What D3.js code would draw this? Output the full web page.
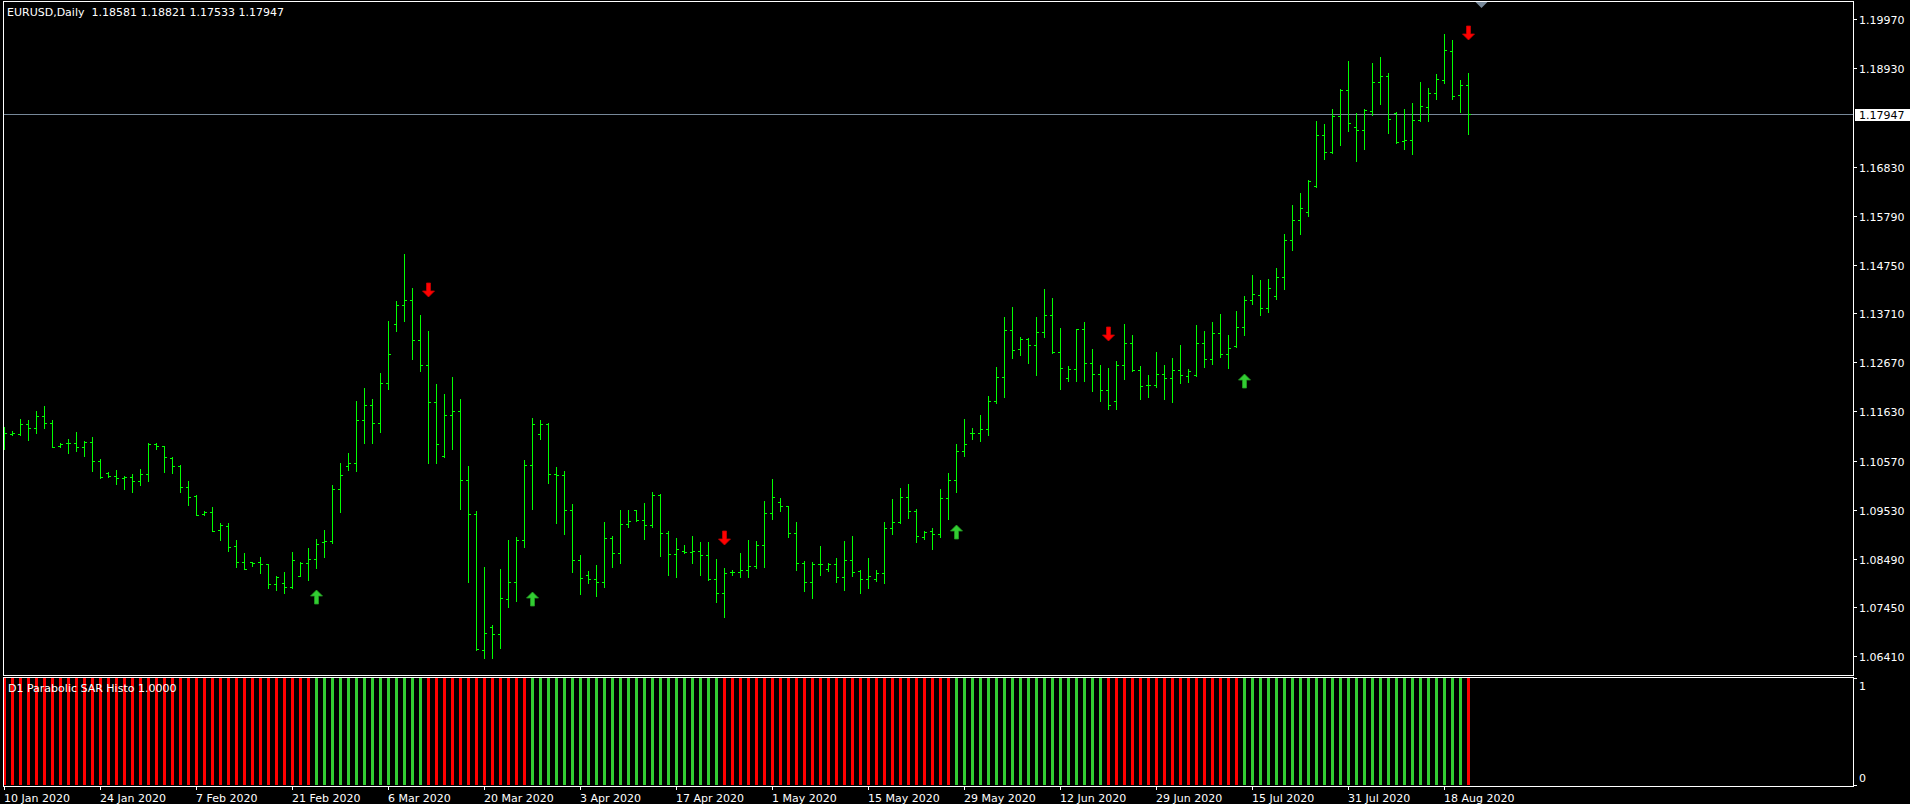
<!DOCTYPE html>
<html>
<head>
<meta charset="utf-8">
<script src="https://cdn.jsdelivr.net/npm/d3@7"></script>
<style>
  html, body { margin: 0; padding: 0; background: #000; overflow: hidden; }
  svg { display: block; }
  text { font-family: "DejaVu Sans", sans-serif; font-size: 11px; fill: #fff; }
</style>
</head>
<body>
<svg id="chart" width="1910" height="804"></svg>
<script>
const symbol = 'EURUSD,Daily';
const indicatorName = 'D1 Parabolic SAR Histo 1.0000';

// daily bars, one line = 12 bars (two weeks incl. sunday bars)
const opens = [
  1.11121, 1.11135, 1.11150, 1.11348, 1.11263, 1.11519, 1.11370, 1.10894, 1.10958, 1.10958, 1.10873, 1.10965,
  1.10561, 1.10305, 1.10248, 1.10206, 1.10227, 1.10135, 1.10284, 1.10937, 1.10880, 1.10632, 1.10468, 1.10007,
  1.09830, 1.09440, 1.09489, 1.09092, 1.09184, 1.08751, 1.08411, 1.08411, 1.08411, 1.08368, 1.07949, 1.07978,
  1.07878, 1.08127, 1.08396, 1.08482, 1.08851, 1.08858, 1.09965, 1.10461, 1.10518, 1.11441, 1.11753, 1.11370,
  1.12221, 1.13477, 1.13881, 1.13988, 1.13143, 1.12604, 1.11816, 1.10674, 1.11547, 1.11625, 1.10163, 1.09439,
  1.06544, 1.07027, 1.06878, 1.07623, 1.07985, 1.08879, 1.10475, 1.11142, 1.11355, 1.10284, 1.10270, 1.09518,
  1.08460, 1.08141, 1.08049, 1.07992, 1.08921, 1.08602, 1.09220, 1.09518, 1.09312, 1.09198, 1.09844, 1.09028,
  1.08588, 1.08652, 1.08631, 1.08645, 1.08567, 1.08049, 1.07765, 1.08212, 1.08212, 1.08240, 1.08325, 1.08772,
  1.09454, 1.09688, 1.09603, 1.09028, 1.08389, 1.07985, 1.08368, 1.08262, 1.08368, 1.08098, 1.08453, 1.08226,
  1.08063, 1.08049, 1.08176, 1.09134, 1.09262, 1.09794, 1.09503, 1.08957, 1.09071, 1.09007, 1.09773, 1.10156,
  1.10773, 1.11157, 1.11157, 1.11242, 1.11838, 1.12349, 1.13349, 1.12945, 1.13158, 1.13030, 1.13307, 1.13676,
  1.12881, 1.12327, 1.12519, 1.13371, 1.12647, 1.12413, 1.12079, 1.11845, 1.12604, 1.13080, 1.12498, 1.12178,
  1.12178, 1.12413, 1.12327, 1.12498, 1.12377, 1.12391, 1.13080, 1.12732, 1.13285, 1.12845, 1.13016, 1.13413,
  1.13988, 1.14094, 1.13818, 1.14073, 1.14477, 1.15265, 1.15691, 1.15861, 1.16422, 1.17500, 1.17138, 1.17905,
  1.18458, 1.17671, 1.17614, 1.18018, 1.18636, 1.18756, 1.17983, 1.17380, 1.17401, 1.17827, 1.18096, 1.18408,
  1.18678, 1.19303, 1.18352, 1.18581
];
const highs = [
  1.11284, 1.11199, 1.11462, 1.11441, 1.11632, 1.11731, 1.11441, 1.10944, 1.11036, 1.11185, 1.10993, 1.11079,
  1.10603, 1.10341, 1.10369, 1.10256, 1.10291, 1.10390, 1.10951, 1.10944, 1.10894, 1.10660, 1.10476, 1.10135,
  1.09837, 1.09496, 1.09581, 1.09248, 1.09241, 1.08886, 1.08602, 1.08418, 1.08517, 1.08375, 1.08113, 1.08198,
  1.08624, 1.08411, 1.08709, 1.08907, 1.09099, 1.10057, 1.10518, 1.10731, 1.11845, 1.12115, 1.11880, 1.12434,
  1.13548, 1.13974, 1.14974, 1.14243, 1.13676, 1.13335, 1.12207, 1.11994, 1.12356, 1.11887, 1.10461, 1.09503,
  1.08311, 1.07077, 1.08269, 1.08886, 1.08950, 1.10589, 1.11483, 1.11440, 1.11377, 1.10433, 1.10362, 1.09652,
  1.08567, 1.08226, 1.08354, 1.09269, 1.08978, 1.09525, 1.09525, 1.09525, 1.09674, 1.09908, 1.09865, 1.09078,
  1.08929, 1.08787, 1.08978, 1.08836, 1.08843, 1.08481, 1.08290, 1.08247, 1.08609, 1.08886, 1.08865, 1.09716,
  1.10185, 1.09780, 1.09610, 1.09269, 1.08439, 1.08418, 1.08758, 1.08396, 1.08503, 1.08865, 1.08971, 1.08240,
  1.08503, 1.08247, 1.09269, 1.09759, 1.09993, 1.10078, 1.09546, 1.09071, 1.09141, 1.09972, 1.10312, 1.10930,
  1.11462, 1.11263, 1.11540, 1.11951, 1.12569, 1.13633, 1.13846, 1.13207, 1.13179, 1.13633, 1.14229, 1.14037,
  1.13399, 1.12590, 1.13378, 1.13527, 1.12952, 1.12611, 1.12547, 1.12696, 1.13484, 1.13250, 1.12590, 1.12398,
  1.12888, 1.12611, 1.12753, 1.13037, 1.12519, 1.13463, 1.13328, 1.13520, 1.13697, 1.13250, 1.13761, 1.14080,
  1.14520, 1.14421, 1.14442, 1.14676, 1.15400, 1.16017, 1.16273, 1.16556, 1.17805, 1.17734, 1.18061, 1.18486,
  1.19083, 1.17976, 1.18061, 1.19047, 1.19168, 1.18827, 1.17997, 1.18061, 1.18181, 1.18643, 1.18508, 1.18806,
  1.19657, 1.19523, 1.18678, 1.18821
];
const lows = [
  1.10830, 1.11114, 1.11114, 1.11022, 1.11171, 1.11277, 1.10859, 1.10873, 1.10745, 1.10788, 1.10681, 1.10362,
  1.10199, 1.10234, 1.10085, 1.09979, 1.09915, 1.10064, 1.10149, 1.10816, 1.10341, 1.10319, 1.09915, 1.09631,
  1.09411, 1.09411, 1.09071, 1.08893, 1.08645, 1.08318, 1.08262, 1.08333, 1.08177, 1.07857, 1.07822, 1.07765,
  1.07871, 1.08120, 1.08035, 1.08297, 1.08531, 1.08829, 1.09489, 1.10376, 1.10362, 1.10944, 1.10944, 1.11192,
  1.12107, 1.13342, 1.13555, 1.12746, 1.12491, 1.10532, 1.10532, 1.10660, 1.10830, 1.09539, 1.07999, 1.06544,
  1.06367, 1.06367, 1.06580, 1.07453, 1.07595, 1.08730, 1.09539, 1.11043, 1.10092, 1.09255, 1.09021, 1.08198,
  1.07729, 1.07978, 1.07687, 1.07893, 1.08304, 1.08404, 1.09170, 1.09298, 1.08914, 1.09156, 1.08553, 1.08148,
  1.08105, 1.08616, 1.08404, 1.08148, 1.08034, 1.07559, 1.07254, 1.08141, 1.08105, 1.08091, 1.08297, 1.08318,
  1.09340, 1.09510, 1.08957, 1.08255, 1.07807, 1.07658, 1.08148, 1.08233, 1.07999, 1.07829, 1.08113, 1.07751,
  1.07871, 1.08020, 1.07978, 1.09021, 1.09255, 1.09361, 1.08851, 1.08900, 1.08702, 1.08957, 1.09326, 1.09915,
  1.10681, 1.11029, 1.11001, 1.11128, 1.11795, 1.11937, 1.12767, 1.12831, 1.12661, 1.12405, 1.13214, 1.12860,
  1.12107, 1.12264, 1.12264, 1.12264, 1.12065, 1.11852, 1.11668, 1.11682, 1.12320, 1.12491, 1.11895, 1.11937,
  1.12143, 1.11895, 1.11831, 1.12221, 1.12256, 1.12377, 1.12576, 1.12625, 1.12789, 1.12540, 1.13001, 1.13243,
  1.13910, 1.13683, 1.13747, 1.14009, 1.14222, 1.15052, 1.15393, 1.15790, 1.16400, 1.16989, 1.17117, 1.17302,
  1.17600, 1.16947, 1.17202, 1.17926, 1.18160, 1.17543, 1.17344, 1.17202, 1.17096, 1.17812, 1.17798, 1.18281,
  1.18621, 1.18281, 1.18004, 1.17533
];
const closes = [
  1.11157, 1.11157, 1.11348, 1.11263, 1.11519, 1.11377, 1.10873, 1.10930, 1.10958, 1.10866, 1.10965, 1.10561,
  1.10234, 1.10248, 1.10213, 1.10227, 1.10135, 1.10284, 1.10930, 1.10887, 1.10646, 1.10468, 1.10014, 1.09794,
  1.09418, 1.09489, 1.09085, 1.09198, 1.08744, 1.08411, 1.08269, 1.08404, 1.08368, 1.07949, 1.08098, 1.07878,
  1.08460, 1.08396, 1.08475, 1.08794, 1.08858, 1.09965, 1.10263, 1.10518, 1.11441, 1.11753, 1.11370, 1.12221,
  1.12838, 1.13881, 1.13988, 1.13143, 1.12604, 1.11816, 1.10930, 1.11547, 1.11625, 1.10163, 1.09439, 1.06559,
  1.06899, 1.06878, 1.07644, 1.07985, 1.08879, 1.10475, 1.11355, 1.11355, 1.10284, 1.10270, 1.09518, 1.08460,
  1.08077, 1.08049, 1.07992, 1.08921, 1.08602, 1.09220, 1.09298, 1.09312, 1.09198, 1.09844, 1.09028, 1.08588,
  1.08687, 1.08631, 1.08645, 1.08567, 1.08049, 1.07765, 1.08183, 1.08205, 1.08240, 1.08333, 1.08772, 1.09454,
  1.09794, 1.09603, 1.09028, 1.08389, 1.07985, 1.08368, 1.08368, 1.08368, 1.08098, 1.08453, 1.08198, 1.08049,
  1.08113, 1.08176, 1.09134, 1.09262, 1.09794, 1.09503, 1.08978, 1.09056, 1.09007, 1.09773, 1.10156, 1.10773,
  1.10922, 1.11157, 1.11242, 1.11838, 1.12349, 1.13349, 1.12923, 1.13158, 1.13030, 1.13307, 1.13676, 1.12881,
  1.12540, 1.12519, 1.13371, 1.12647, 1.12413, 1.12079, 1.11753, 1.12604, 1.13080, 1.12498, 1.12164, 1.12178,
  1.12413, 1.12327, 1.12498, 1.12391, 1.12491, 1.13080, 1.12732, 1.13285, 1.12845, 1.12980, 1.13413, 1.13988,
  1.14116, 1.13818, 1.14258, 1.14477, 1.15265, 1.15691, 1.15946, 1.16528, 1.17507, 1.17138, 1.17905, 1.18458,
  1.17756, 1.17614, 1.18040, 1.18636, 1.18756, 1.17841, 1.17351, 1.17401, 1.17827, 1.18125, 1.18401, 1.18692,
  1.19310, 1.18345, 1.18572, 1.17947
];

// parabolic SAR flips (arrow price = SAR value at the flip bar)
const signalBars = [39, 53, 66, 90, 119, 138, 155, 183];
const signalDirs = ['up', 'down', 'up', 'down', 'up', 'down', 'up', 'down'];
const signalPrices = [1.07822, 1.14065, 1.07786, 1.08780, 1.09199, 1.13129, 1.12413, 1.19530];

// histogram trend runs: first bar of each run and its direction
const trendStarts = [0, 39, 53, 66, 90, 119, 138, 155, 183];
const trendDirs = ['down', 'up', 'down', 'up', 'down', 'up', 'down', 'up', 'down'];

const priceTicks = [1.19970, 1.18930, 1.16830, 1.15790, 1.14750, 1.13710, 1.12670,
  1.11630, 1.10570, 1.09530, 1.08490, 1.07450, 1.06410];
const dateTickBars = [0, 12, 24, 36, 48, 60, 72, 84, 96, 108, 120, 132, 144, 156, 168, 180];
const dateTickLabels = ['10 Jan 2020', '24 Jan 2020', '7 Feb 2020', '21 Feb 2020', '6 Mar 2020',
  '20 Mar 2020', '3 Apr 2020', '17 Apr 2020', '1 May 2020', '15 May 2020', '29 May 2020',
  '12 Jun 2020', '29 Jun 2020', '15 Jul 2020', '31 Jul 2020', '18 Aug 2020'];

// visible price range of the main window
const priceRange = [1.06012, 1.20360];

const mainBox = { left: 3, top: 1, right: 1853, bottom: 675 };
const subBox = { left: 3, top: 677, right: 1853, bottom: 786 };
const barStep = 8;
const firstBarX = 4;

const colors = {
  bar: '#00ff00',
  up: '#32cd32',
  down: '#ff0000',
  grid: '#778899',
  frame: '#ffffff'
};

const svg = d3.select('#chart');
const n = opens.length;

const x = d3.scaleLinear()
  .domain([0, n - 1])
  .range([firstBarX, firstBarX + barStep * (n - 1)]);

const y = d3.scaleLinear()
  .domain(priceRange)
  .range([mainBox.bottom, mainBox.top]);

const h = d3.scaleLinear()
  .domain([0, 1])
  .range([subBox.bottom - 1, subBox.top + 1]);

const bars = d3.range(n).map((i) => ({
  i: i, o: opens[i], h: highs[i], l: lows[i], c: closes[i]
}));

function trendAt(i) {
  let dir = trendDirs[0];
  trendStarts.forEach((s, k) => { if (i >= s) dir = trendDirs[k]; });
  return dir;
}

svg.append('rect').attr('width', 1910).attr('height', 804).attr('fill', '#000');

svg.append('clipPath').attr('id', 'mainClip')
  .append('rect')
  .attr('x', mainBox.left + 1).attr('y', mainBox.top + 1)
  .attr('width', mainBox.right - mainBox.left - 1)
  .attr('height', mainBox.bottom - mainBox.top - 1);

svg.append('clipPath').attr('id', 'subClip')
  .append('rect')
  .attr('x', subBox.left + 1).attr('y', subBox.top + 1)
  .attr('width', subBox.right - subBox.left - 1)
  .attr('height', subBox.bottom - subBox.top - 1);

// ---- main window ----
const plot = svg.append('g').attr('clip-path', 'url(#mainClip)')
  .attr('shape-rendering', 'crispEdges');

// current price line
const lastRow = Math.round(y(closes[n - 1]));
plot.append('line')
  .attr('x1', mainBox.left).attr('x2', mainBox.right)
  .attr('y1', lastRow + 0.5).attr('y2', lastRow + 0.5)
  .attr('stroke', colors.grid);

const ohlc = plot.append('g').attr('stroke', colors.bar).attr('stroke-width', 1);

ohlc.selectAll('line.hl')
  .data(bars)
  .join('line')
  .attr('class', 'hl')
  .attr('x1', (d) => x(d.i) + 0.5).attr('x2', (d) => x(d.i) + 0.5)
  .attr('y1', (d) => Math.round(y(d.h)))
  .attr('y2', (d) => Math.round(y(d.l)) + 1);

ohlc.selectAll('line.op')
  .data(bars)
  .join('line')
  .attr('class', 'op')
  .attr('x1', (d) => x(d.i) - 2).attr('x2', (d) => x(d.i))
  .attr('y1', (d) => Math.round(y(d.o)) + 0.5)
  .attr('y2', (d) => Math.round(y(d.o)) + 0.5);

ohlc.selectAll('line.cl')
  .data(bars)
  .join('line')
  .attr('class', 'cl')
  .attr('x1', (d) => x(d.i) + 1).attr('x2', (d) => x(d.i) + 3)
  .attr('y1', (d) => Math.round(y(d.c)) + 0.5)
  .attr('y2', (d) => Math.round(y(d.c)) + 0.5);

// SAR flip arrows
const signals = signalBars.map((b, k) => ({ i: b, dir: signalDirs[k], p: signalPrices[k] }));

function arrowPath(d) {
  const cx = x(d.i) + 0.5;
  const t = Math.round(y(d.p));
  const s = d.dir === 'up' ? 1 : -1;
  return 'M' + cx + ',' + t +
    'L' + (cx + 6) + ',' + (t + s * 6) +
    'L' + (cx + 2) + ',' + (t + s * 6) +
    'L' + (cx + 2) + ',' + (t + s * 14) +
    'L' + (cx - 2) + ',' + (t + s * 14) +
    'L' + (cx - 2) + ',' + (t + s * 6) +
    'L' + (cx - 6) + ',' + (t + s * 6) + 'Z';
}

svg.append('g').attr('clip-path', 'url(#mainClip)')
  .selectAll('path')
  .data(signals)
  .join('path')
  .attr('d', arrowPath)
  .attr('fill', (d) => d.dir === 'up' ? colors.up : colors.down)
  .attr('stroke', (d) => d.dir === 'up' ? '#229a22' : '#c80000')
  .attr('stroke-width', 0.8);

// chart shift marker
const shiftX = x(n - 1) + 13.5;
svg.append('path')
  .attr('d', 'M' + (shiftX - 6) + ',' + (mainBox.top + 1) + 'L' + (shiftX + 6) + ',' + (mainBox.top + 1) +
    'L' + shiftX + ',' + (mainBox.top + 7) + 'Z')
  .attr('fill', colors.grid);

// title
svg.append('text')
  .attr('x', 7).attr('y', 16)
  .style('white-space', 'pre')
  .text(symbol + '  ' + [opens[n - 1], highs[n - 1], lows[n - 1], closes[n - 1]]
    .map((v) => v.toFixed(5)).join(' '));

// ---- indicator window ----
const histo = svg.append('g').attr('clip-path', 'url(#subClip)')
  .attr('shape-rendering', 'crispEdges');

histo.selectAll('rect')
  .data(bars)
  .join('rect')
  .attr('x', (d) => x(d.i) - 1)
  .attr('width', 3)
  .attr('y', h(1))
  .attr('height', h(0) - h(1))
  .attr('fill', (d) => trendAt(d.i) === 'up' ? colors.up : colors.down);

svg.append('text')
  .attr('x', 8).attr('y', 692)
  .text(indicatorName);

// ---- frames ----
const frames = svg.append('g').attr('fill', 'none').attr('stroke', colors.frame)
  .attr('shape-rendering', 'crispEdges');
[mainBox, subBox].forEach((b) => {
  frames.append('rect')
    .attr('x', b.left + 0.5).attr('y', b.top + 0.5)
    .attr('width', b.right - b.left).attr('height', b.bottom - b.top);
});

// ---- price axis ----
const pAxis = svg.append('g');
pAxis.selectAll('line')
  .data(priceTicks)
  .join('line')
  .attr('x1', mainBox.right + 1).attr('x2', mainBox.right + 4)
  .attr('y1', (d) => Math.round(y(d)) + 0.5).attr('y2', (d) => Math.round(y(d)) + 0.5)
  .attr('stroke', colors.frame)
  .attr('shape-rendering', 'crispEdges');
pAxis.selectAll('text')
  .data(priceTicks)
  .join('text')
  .attr('x', mainBox.right + 6)
  .attr('y', (d) => Math.round(y(d)) + 4.5)
  .text((d) => d.toFixed(5));

// current price label
pAxis.append('rect')
  .attr('x', mainBox.right + 2).attr('y', lastRow - 5)
  .attr('width', 1910 - mainBox.right - 2).attr('height', 12)
  .attr('fill', '#fff');
pAxis.append('text')
  .attr('x', mainBox.right + 6).attr('y', lastRow + 5)
  .style('fill', '#000')
  .text(closes[n - 1].toFixed(5));

// indicator scale
const hAxis = svg.append('g');
[1, 0].forEach((v) => {
  hAxis.append('line')
    .attr('x1', subBox.right + 1).attr('x2', subBox.right + 4)
    .attr('y1', Math.round(h(v)) + 0.5).attr('y2', Math.round(h(v)) + 0.5)
    .attr('stroke', colors.frame)
    .attr('shape-rendering', 'crispEdges');
  hAxis.append('text')
    .attr('x', subBox.right + 6)
    .attr('y', v === 1 ? h(v) + 12 : h(v) - 3)
    .text(String(v));
});

// ---- date axis ----
const dAxis = svg.append('g');
dAxis.selectAll('line')
  .data(dateTickBars)
  .join('line')
  .attr('x1', (d) => x(d) + 0.5).attr('x2', (d) => x(d) + 0.5)
  .attr('y1', subBox.bottom + 1).attr('y2', subBox.bottom + 4)
  .attr('stroke', colors.frame)
  .attr('shape-rendering', 'crispEdges');
dAxis.selectAll('text')
  .data(dateTickBars)
  .join('text')
  .attr('x', (d) => x(d))
  .attr('y', 802)
  .text((d, k) => dateTickLabels[k]);
</script>
</body>
</html>
